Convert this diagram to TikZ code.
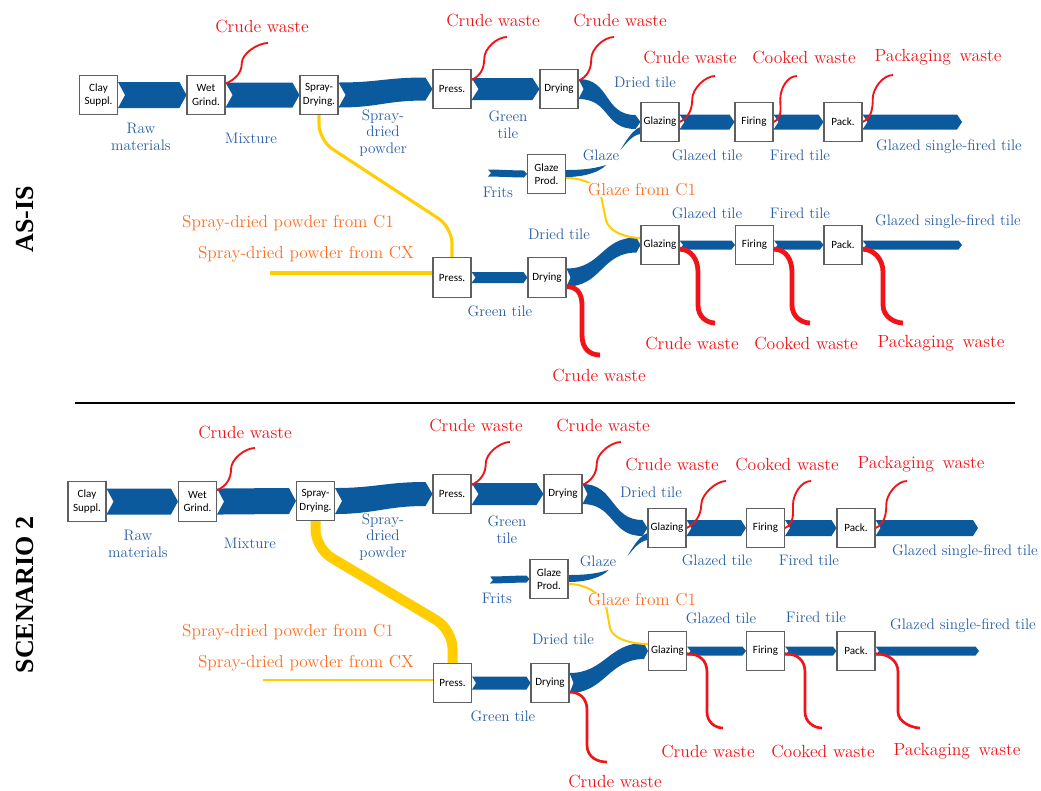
\documentclass[tikz,border=0pt]{standalone}
\usepackage{fontspec}
\newfontfamily\boxfont{Carlito}
\newfontfamily\titlefont{Liberation Serif}
\usetikzlibrary{calc,backgrounds}

\definecolor{flowblue}{RGB}{12,90,158}
\definecolor{lblue}{RGB}{40,95,165}
\definecolor{wred}{RGB}{240,20,25}
\definecolor{lorange}{RGB}{255,110,30}
\definecolor{pyellow}{RGB}{255,205,0}
\definecolor{boxline}{RGB}{95,95,95}

\tikzset{
  box/.style={draw=boxline, line width=0.8pt, fill=white, minimum width=28.5pt,
    minimum height=29.5pt, inner sep=0pt, align=center,
    font=\boxfont\fontsize{8.3}{10}\selectfont},
  flowlbl/.style={text=lblue, align=center, font=\fontsize{11.4}{12.6}\selectfont, inner sep=1pt},
  wastelbl/.style={text=wred, font=\fontsize{13.2}{15}\selectfont, inner sep=1pt},
  srclbl/.style={text=lorange, font=\fontsize{13}{15}\selectfont, inner sep=1pt},
  wthin/.style={draw=wred, line width=1.4pt},
  wmid/.style={draw=wred, line width=2pt},
  wthick/.style={draw=wred, line width=3.6pt},
  powder/.style={draw=pyellow, line width=#1},
  flow/.style={fill=flowblue},
  sectitle/.style={rotate=90, font=\titlefont\bfseries\fontsize{19.5}{22}\selectfont},
}

% material flow band: start, end, half height at start/end, tip depth, curve pull
\newcommand\flowband[6]{%
  \fill[flow] ($(#1)+(0,-#3)$) .. controls +(#6,0) and +(-#6,0) .. ($(#2)+(-#5,-#4)$)
    -- (#2) -- ($(#2)+(-#5,#4)$) .. controls +(-#6,0) and +(#6,0) .. ($(#1)+(0,#3)$)
    -- ($(#1)+(#5,0)$) -- cycle;}

% glaze stream: short hooked piece out of the glaze plant, sliver into glazing
\newcommand\glazeflow[2]{%
  \fill[flow] ($(#1.east)+(0,-4)$) .. controls +(20,0) and +(-10,3) .. ($(#1.east)+(40,-9)$)
    .. controls +(-6,7) and +(18,0) .. ($(#1.east)+(0,3)$) -- cycle;
  \fill[flow] ($(#2.west)+(-20,28)$) .. controls +(6,-10) and +(-8,3) .. ($(#2.west)+(0,5)$)
    -- ($(#2.west)+(0,12)$) .. controls +(-8,1) and +(6,-7) .. ($(#2.west)+(-20,28)$) -- cycle;}

% waste stream leaving upwards
\newcommand\wasteup[3]{%
  \draw[#3] (#1) .. controls +(9,-4) and +(0,10) .. ($(#1)!0.5!(#2)+(-5,0)$)
    .. controls +(0,-10) and +(-10,0) .. (#2);}

\begin{document}
\begin{tikzpicture}[x=0.75pt,y=-0.75pt]
\useasboundingbox (0,0) rectangle (1041,790);

% ---------------- AS-IS processes
\node[box] (clayA) at (98.5,95) {Clay\\Suppl.};
\node[box] (wetA) at (206,95) {Wet\\Grind.};
\node[box] (sprayA) at (319,95) {Spray-\\Drying.};
\node[box] (pressA) at (452,89) {Press.};
\node[box] (dryA) at (559,89) {Drying};
\node[box] (glazA) at (660,122) {Glazing};
\node[box] (fireA) at (754,122) {Firing};
\node[box] (packA) at (843,122) {Pack.};
\node[box] (gprodA) at (546.5,174) {Glaze\\Prod.};
\node[box] (pressB) at (452,277.5) {Press.};
\node[box] (dryB) at (547,277.5) {Drying};
\node[box] (glazB) at (660,245) {Glazing};
\node[box] (fireB) at (754.5,245) {Firing};
\node[box] (packB) at (843,245) {Pack.};
\coordinate (endA) at (962,122);
\coordinate (endB) at (962,245);
\coordinate (fritsA) at (488,173);
\coordinate (cxA) at (270,273);
\coordinate (wcA1) at (268,43);
\coordinate (wcA2) at (507,37);
\coordinate (wcA3) at (614,37);
\coordinate (wcA4) at (715,76);
\coordinate (wcA5) at (797,76);
\coordinate (wcA6) at (893,75);
\coordinate (wcB1) at (600,355);
\coordinate (wcB2) at (715,323);
\coordinate (wcB3) at (810,323);
\coordinate (wcB4) at (903,323);

% ---------------- SCENARIO 2 processes
\node[box] (clayS) at (87,501.5) {Clay\\Suppl.};
\node[box] (wetS) at (197.5,501.5) {Wet\\Grind.};
\node[box] (sprayS) at (315.5,501) {Spray-\\Drying.};
\node[box] (pressS) at (452,494) {Press.};
\node[box] (dryS) at (563,494) {Drying};
\node[box] (glazS) at (667,528) {Glazing};
\node[box] (fireS) at (765.5,528) {Firing};
\node[box] (packS) at (856,528) {Pack.};
\node[box] (gprodS) at (549,579) {Glaze\\Prod.};
\node[box] (pressT) at (452.5,683) {Press.};
\node[box] (dryT) at (550,683) {Drying};
\node[box] (glazT) at (667.5,651) {Glazing};
\node[box] (fireT) at (765.5,651) {Firing};
\node[box] (packT) at (856,651) {Pack.};
\coordinate (endS) at (978,528);
\coordinate (endT) at (979,651);
\coordinate (fritsS) at (490,580);
\coordinate (cxS) at (263,680);
\coordinate (wcS1) at (255,448);
\coordinate (wcS2) at (510,442);
\coordinate (wcS3) at (621,442);
\coordinate (wcS4) at (726,481);
\coordinate (wcS5) at (811,481);
\coordinate (wcS6) at (907,481);
\coordinate (wcT1) at (607,762);
\coordinate (wcT2) at (723,728);
\coordinate (wcT3) at (822,728);
\coordinate (wcT4) at (920,728);

\begin{scope}[on background layer]
\fill[white] (0,0) rectangle (1041,790);

% ---- AS-IS flows
\flowband{clayA.east}{wetA.west}{13}{13}{7}{20}
\flowband{wetA.east}{sprayA.west}{12.5}{12.5}{7}{20}
\flowband{sprayA.east}{pressA.west}{12.5}{11.5}{7}{40}
\flowband{pressA.east}{dryA.west}{11}{11}{7}{20}
\flowband{dryA.east}{glazA.west}{10}{7}{5}{32}
\flowband{glazA.east}{fireA.west}{7.5}{7.5}{5}{15}
\flowband{fireA.east}{packA.west}{7.5}{7.5}{5}{15}
\flowband{packA.east}{endA}{7.5}{7.5}{5}{30}
\flowband{fritsA}{gprodA.west}{3.5}{3.5}{3}{10}
\flowband{pressB.east}{dryB.west}{5.5}{5.5}{4}{15}
\flowband{dryB.east}{glazB.west}{9}{7.5}{4}{35}
\flowband{glazB.east}{fireB.west}{4.5}{4.5}{3.5}{15}
\flowband{fireB.east}{packB.west}{4.5}{4.5}{3.5}{15}
\flowband{packB.east}{endB}{4.5}{4.5}{3.5}{30}
\glazeflow{gprodA}{glazA}

% ---- SCENARIO 2 flows
\flowband{clayS.east}{wetS.west}{13}{13}{7}{20}
\flowband{wetS.east}{sprayS.west}{13}{13}{7}{20}
\flowband{sprayS.east}{pressS.west}{13}{12}{7}{40}
\flowband{pressS.east}{dryS.west}{11}{11}{7}{20}
\flowband{dryS.east}{glazS.west}{10}{8}{5}{32}
\flowband{glazS.east}{fireS.west}{8}{8}{5}{15}
\flowband{fireS.east}{packS.west}{8}{8}{5}{15}
\flowband{packS.east}{endS}{8}{8}{5}{30}
\flowband{fritsS}{gprodS.west}{3.5}{3.5}{3}{10}
\flowband{pressT.east}{dryT.west}{6.5}{6.5}{4}{15}
\flowband{dryT.east}{glazT.west}{10}{8}{4}{35}
\flowband{glazT.east}{fireT.west}{4.5}{4.5}{3.5}{15}
\flowband{fireT.east}{packT.west}{4.5}{4.5}{3.5}{15}
\flowband{packT.east}{endT}{4.5}{4.5}{3.5}{30}
\glazeflow{gprodS}{glazS}

% ---- spray-dried powder and glaze supplies
\draw[powder=2.3pt, rounded corners=12pt] (sprayA.south) -- ++(0,25) -- ($(pressB.north)+(0,-30)$) -- (pressB.north);
\draw[powder=3pt] (cxA) -- (cxA -| pressB.west);
\draw[powder=1.5pt] ($(gprodA.east)+(0,4)$) .. controls +(20,0) and +(-4,-10) .. (601,196)
  -- (606,220) .. controls +(3,12) and +(-14,0) .. ($(glazB.west)+(0,-7)$);
\draw[powder=7.5pt, rounded corners=14pt] (sprayS.south) -- ++(0,27) -- ($(pressT.north)+(0,-33)$) -- (pressT.north);
\draw[powder=0.8pt] (cxS) -- (cxS -| pressT.west);
\draw[powder=1.5pt] ($(gprodS.east)+(0,5)$) .. controls +(20,0) and +(-4,-10) .. (606,606)
  -- (610,628) .. controls +(3,12) and +(-14,0) .. ($(glazT.west)+(0,-7)$);

% ---- waste streams
\wasteup{wetA.30}{wcA1}{wthin}
\wasteup{pressA.25}{wcA2}{wthin}
\wasteup{dryA.23}{wcA3}{wthin}
\wasteup{glazA.east}{wcA4}{wthin}
\wasteup{fireA.east}{wcA5}{wthin}
\wasteup{packA.east}{wcA6}{wthin}
\draw[wthick] (dryB.-25) .. controls +(10,0) and +(0,-12) .. (582,305) -- (582,335) .. controls +(0,14) and +(-10,0) .. (wcB1);
\draw[wthick] (glazB.-12) .. controls +(12,0) and +(0,-12) .. (698,272) -- (698,305) .. controls +(0,12) and +(-8,0) .. (wcB2);
\draw[wthick] (fireB.-12) .. controls +(12,0) and +(0,-12) .. (792,272) -- (792,305) .. controls +(0,12) and +(-8,0) .. (wcB3);
\draw[wthick] (packB.-12) .. controls +(12,0) and +(0,-12) .. (883,272) -- (883,305) .. controls +(0,12) and +(-8,0) .. (wcB4);

\wasteup{wetS.30}{wcS1}{wthin}
\wasteup{pressS.25}{wcS2}{wthin}
\wasteup{dryS.25}{wcS3}{wthin}
\wasteup{glazS.east}{wcS4}{wthin}
\wasteup{fireS.east}{wcS5}{wthin}
\wasteup{packS.east}{wcS6}{wthin}
\draw[wmid] (dryT.-25) .. controls +(10,0) and +(0,-12) .. (587,710) -- (587,745) .. controls +(0,12) and +(-10,0) .. (wcT1);
\draw[wmid] (glazT.-8) .. controls +(12,0) and +(0,-12) .. (707,672) -- (707,712) .. controls +(0,10) and +(-8,0) .. (wcT2);
\draw[wmid] (fireT.-8) .. controls +(12,0) and +(0,-12) .. (805,672) -- (805,712) .. controls +(0,10) and +(-8,0) .. (wcT3);
\draw[wmid] (packT.-8) .. controls +(12,0) and +(0,-12) .. (898,672) -- (898,712) .. controls +(0,10) and +(-8,0) .. (wcT4);
\end{scope}

% ---------------- AS-IS labels
\node[wastelbl] (lwA1) at (262,26) {Crude waste};
\node[wastelbl] (lwA2) at (493,20) {Crude waste};
\node[wastelbl] (lwA3) at (620,20) {Crude waste};
\node[wastelbl] (lwA4) at (690,57) {Crude waste};
\node[wastelbl] (lwA5) at (804,57) {Cooked waste};
\node[wastelbl] (lwA6) at (938,57) {Packaging\, waste};
\node[flowlbl] (lfA1) at (141,137) {Raw\\materials};
\node[flowlbl] (lfA2) at (251,138) {Mixture};
\node[flowlbl] (lfA3) at (383,133) {Spray-\\dried\\powder};
\node[flowlbl] (lfA4) at (508,125) {Green\\tile};
\node[flowlbl] (lfA5) at (645,82) {Dried tile};
\node[flowlbl] (lfA6) at (707,155) {Glazed tile};
\node[flowlbl] (lfA7) at (800,155) {Fired tile};
\node[flowlbl] (lfA8) at (949,147) {Glazed single-fired tile};
\node[flowlbl] (lfA9) at (601,155) {Glaze};
\node[flowlbl] (lfA10) at (498,192) {Frits};
\node[srclbl, fill=white, inner sep=0.5pt] (lsA1) at (642,190) {Glaze from C1};
\node[flowlbl] (lfA11) at (559,234) {Dried tile};
\node[flowlbl] (lfA12) at (707,213) {Glazed tile};
\node[flowlbl] (lfA13) at (800,213) {Fired tile};
\node[flowlbl] (lfA14) at (948,222) {Glazed single-fired tile};
\node[flowlbl] (lfA15) at (500,311) {Green tile};
\node[srclbl] (lsA2) at (288,223) {Spray-dried powder from C1};
\node[srclbl] (lsA3) at (306,254) {Spray-dried powder from CX};
\node[wastelbl] (lwB1) at (599,375) {Crude waste};
\node[wastelbl] (lwB2) at (692,343) {Crude waste};
\node[wastelbl] (lwB3) at (806,343) {Cooked waste};
\node[wastelbl] (lwB4) at (941,343) {Packaging\, waste};

% ---------------- SCENARIO 2 labels
\node[wastelbl] (lwS1) at (245,432) {Crude waste};
\node[wastelbl] (lwS2) at (476,425) {Crude waste};
\node[wastelbl] (lwS3) at (603,425) {Crude waste};
\node[wastelbl] (lwS4) at (672,464) {Crude waste};
\node[wastelbl] (lwS5) at (787,464) {Cooked waste};
\node[wastelbl] (lwS6) at (921,464) {Packaging\, waste};
\node[flowlbl] (lfS1) at (138,544) {Raw\\materials};
\node[flowlbl] (lfS2) at (250,543) {Mixture};
\node[flowlbl] (lfS3) at (383,537) {Spray-\\dried\\powder};
\node[flowlbl] (lfS4) at (507,530) {Green\\tile};
\node[flowlbl] (lfS5) at (651,492) {Dried tile};
\node[flowlbl] (lfS6) at (717,560) {Glazed tile};
\node[flowlbl] (lfS7) at (809,560) {Fired tile};
\node[flowlbl] (lfS8) at (965,552) {Glazed single-fired tile};
\node[flowlbl] (lfS9) at (598,561) {Glaze};
\node[flowlbl] (lfS10) at (497,598) {Frits};
\node[srclbl, fill=white, inner sep=0.5pt] (lsS1) at (642,600) {Glaze from C1};
\node[flowlbl] (lfS11) at (563,639) {Dried tile};
\node[flowlbl] (lfS12) at (721,618) {Glazed tile};
\node[flowlbl] (lfS13) at (816,617) {Fired tile};
\node[flowlbl] (lfS14) at (963,626) {Glazed single-fired tile};
\node[flowlbl] (lfS15) at (503,716) {Green tile};
\node[srclbl] (lsS2) at (288,632) {Spray-dried powder from C1};
\node[srclbl] (lsS3) at (306,663) {Spray-dried powder from CX};
\node[wastelbl] (lwT1) at (615,781) {Crude waste};
\node[wastelbl] (lwT2) at (708,751) {Crude waste};
\node[wastelbl] (lwT3) at (823,751) {Cooked waste};
\node[wastelbl] (lwT4) at (957,751) {Packaging\, waste};

% ---------------- section titles and divider
\node[sectitle] (titleA) at (25,219) {AS-IS};
\node[sectitle] (titleS) at (25,595) {SCENARIO 2};
\draw[line width=1.6pt] (75,403) -- (1015,403);
\end{tikzpicture}
\end{document}
